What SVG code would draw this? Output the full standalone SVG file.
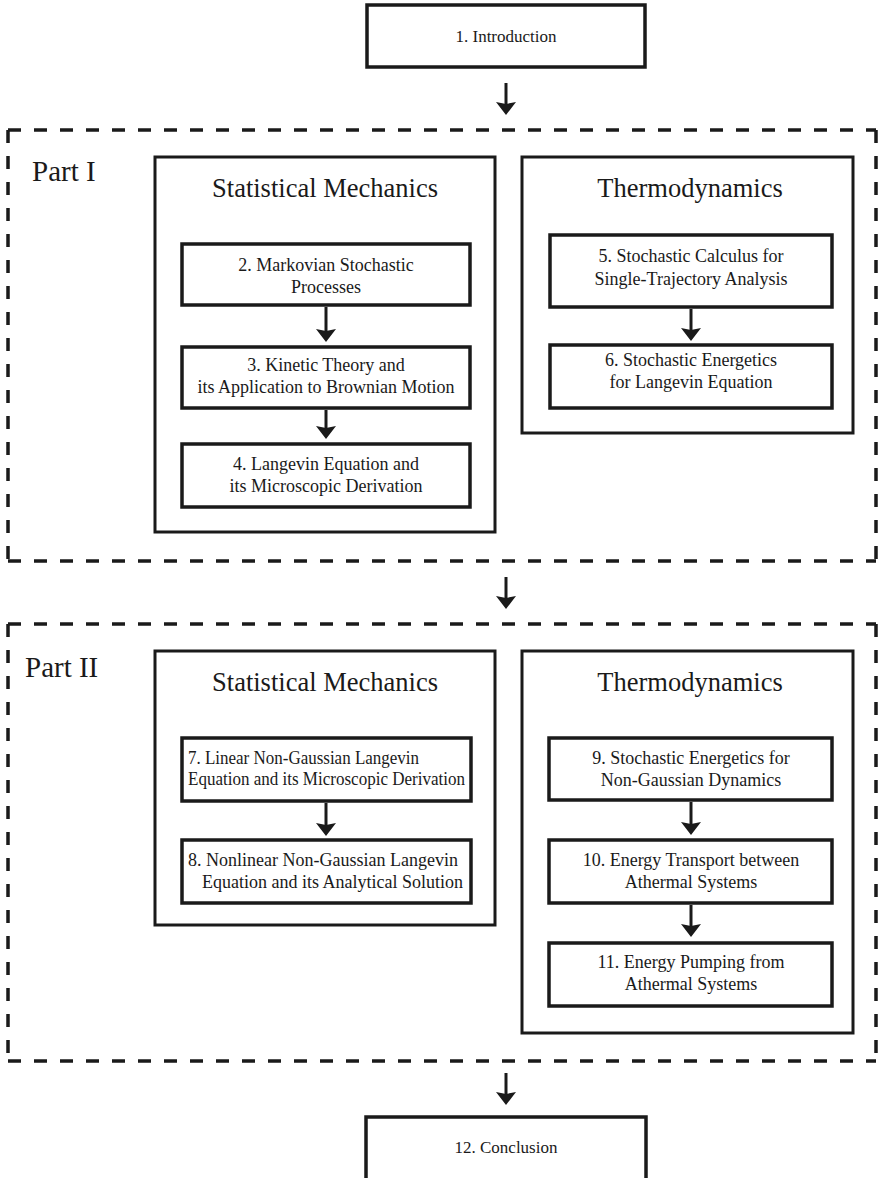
<svg xmlns="http://www.w3.org/2000/svg" width="879" height="1178" viewBox="0 0 879 1178">
<style>
text{font-family:"Liberation Serif","Times New Roman",serif;fill:#1a1a1a}
.n{fill:#fff;stroke:#1a1a1a;stroke-width:3.5}
.o{fill:none;stroke:#1a1a1a;stroke-width:3}
.d{fill:none;stroke:#1a1a1a;stroke-width:3.5;stroke-dasharray:13 13}
.t{font-size:18px;text-anchor:middle}
.s{font-size:18px}
.h{font-size:26.5px;text-anchor:middle}
.p{font-size:29px}
.a{fill:none;stroke:#1a1a1a;stroke-width:3;marker-end:url(#ah)}
</style>
<defs>
<marker id="ah" markerUnits="userSpaceOnUse" viewBox="0 0 13 20" markerWidth="13" markerHeight="20" refX="2" refY="10" orient="auto">
<path d="M0,0 L13,10 L0,20 L2,10 z" fill="#1a1a1a"/>
</marker>
</defs>
<rect width="879" height="1178" fill="#fff"/>

<g id="part1">
<line class="d" x1="8" y1="130" x2="876" y2="130"/>
<line class="d" x1="8" y1="561" x2="876" y2="561"/>
<line class="d" x1="8" y1="130" x2="8" y2="561"/>
<line class="d" x1="876" y1="130" x2="876" y2="561"/>
<text class="p" x="32" y="181">Part I</text>
</g>
<g id="part2">
<line class="d" x1="8" y1="624" x2="876" y2="624"/>
<line class="d" x1="8" y1="1061" x2="876" y2="1061"/>
<line class="d" x1="8" y1="624" x2="8" y2="1061"/>
<line class="d" x1="876" y1="624" x2="876" y2="1061"/>
<text class="p" x="25" y="677">Part II</text>
</g>

<g id="sm1">
<rect class="o" x="155" y="157" width="340" height="375"/>
<text class="h" x="325" y="197">Statistical Mechanics</text>
</g>
<g id="td1">
<rect class="o" x="522" y="157" width="331" height="276"/>
<text class="h" x="690" y="197">Thermodynamics</text>
</g>
<g id="sm2">
<rect class="o" x="155" y="651" width="340" height="274"/>
<text class="h" x="325" y="691">Statistical Mechanics</text>
</g>
<g id="td2">
<rect class="o" x="522" y="651" width="331" height="382"/>
<text class="h" x="690" y="691">Thermodynamics</text>
</g>

<g id="n1">
<rect class="n" x="367" y="5" width="278" height="62"/>
<text class="t" x="506" y="42" style="font-size:17px">1. Introduction</text>
</g>
<g id="n2">
<rect class="n" x="182" y="244" width="288" height="61"/>
<text class="t" x="326" y="271">2. Markovian Stochastic</text>
<text class="t" x="326" y="293">Processes</text>
</g>
<g id="n3">
<rect class="n" x="182" y="347" width="288" height="61"/>
<text class="t" x="326" y="371">3. Kinetic Theory and</text>
<text class="t" x="326" y="393">its Application to Brownian Motion</text>
</g>
<g id="n4">
<rect class="n" x="182" y="444" width="288" height="63"/>
<text class="t" x="326" y="470">4. Langevin Equation and</text>
<text class="t" x="326" y="492">its Microscopic Derivation</text>
</g>
<g id="n5">
<rect class="n" x="550" y="235" width="282" height="72"/>
<text class="t" x="691" y="262">5. Stochastic Calculus for</text>
<text class="t" x="691" y="285">Single-Trajectory Analysis</text>
</g>
<g id="n6">
<rect class="n" x="550" y="345" width="282" height="63"/>
<text class="t" x="691" y="366">6. Stochastic Energetics</text>
<text class="t" x="691" y="388">for Langevin Equation</text>
</g>
<g id="n7">
<rect class="n" x="182" y="738" width="289" height="63"/>
<text class="s" x="188" y="764" textLength="231" lengthAdjust="spacingAndGlyphs">7. Linear Non-Gaussian Langevin</text>
<text class="s" x="188" y="785" textLength="277" lengthAdjust="spacingAndGlyphs">Equation and its Microscopic Derivation</text>
</g>
<g id="n8">
<rect class="n" x="182" y="840" width="289" height="63"/>
<text class="s" x="188" y="866">8. Nonlinear Non-Gaussian Langevin</text>
<text class="s" x="202" y="888">Equation and its Analytical Solution</text>
</g>
<g id="n9">
<rect class="n" x="549" y="738" width="283" height="62"/>
<text class="t" x="691" y="764">9. Stochastic Energetics for</text>
<text class="t" x="691" y="786">Non-Gaussian Dynamics</text>
</g>
<g id="n10">
<rect class="n" x="549" y="840" width="283" height="63"/>
<text class="t" x="691" y="866">10. Energy Transport between</text>
<text class="t" x="691" y="888">Athermal Systems</text>
</g>
<g id="n11">
<rect class="n" x="549" y="943" width="283" height="63"/>
<text class="t" x="691" y="968">11. Energy Pumping from</text>
<text class="t" x="691" y="990">Athermal Systems</text>
</g>
<g id="n12">
<rect class="n" x="366" y="1117" width="280" height="64"/>
<text class="t" x="506" y="1153" style="font-size:17px">12. Conclusion</text>
</g>

<g id="connectors">
<path class="a" d="M506,83 V104"/>
<path class="a" d="M506,577 V598"/>
<path class="a" d="M506,1073 V1094"/>
<path class="a" d="M326,307 V331"/>
<path class="a" d="M326,410 V428"/>
<path class="a" d="M691,309 V330"/>
<path class="a" d="M326,803 V825"/>
<path class="a" d="M691,802 V824"/>
<path class="a" d="M691,905 V926"/>
</g>
</svg>
